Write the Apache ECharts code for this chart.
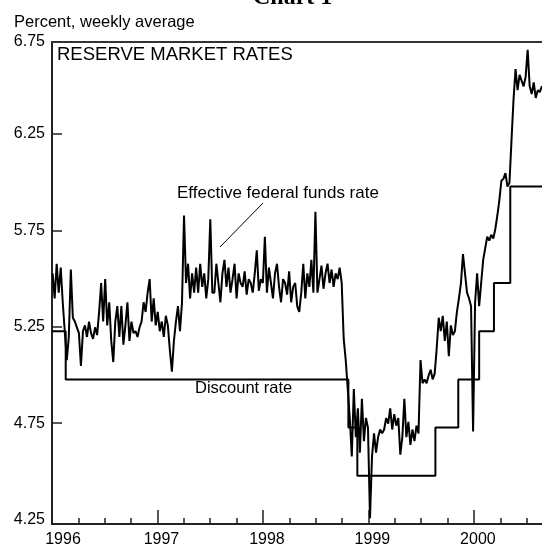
<!DOCTYPE html>
<html>
<head>
<meta charset="utf-8">
<script src="https://cdn.jsdelivr.net/npm/echarts@6/dist/echarts.min.js"></script>
<style>
html,body{margin:0;padding:0;background:#fff;}
#c{width:542px;height:550px;}
</style>
</head>
<body>
<div id="c"></div>
<script>
// ---- DATA ----
var firstWeek = 1996.006;          // first weekly observation (decimal year)
var weekStep = 7 / 365.25;         // one week in years
var fedFunds = [
5.55,5.42,5.60,5.45,5.58,5.40,5.25,5.10,5.22,5.57,
5.32,5.30,5.27,5.24,5.07,5.25,5.28,5.22,5.30,5.24,
5.21,5.27,5.23,5.35,5.50,5.30,5.52,5.28,5.40,5.20,
5.09,5.30,5.38,5.22,5.38,5.18,5.28,5.40,5.20,5.30,
5.24,5.25,5.22,5.27,5.30,5.40,5.35,5.45,5.52,5.30,
5.42,5.28,5.35,5.25,5.30,5.22,5.33,5.28,5.15,5.04,
5.20,5.30,5.38,5.25,5.40,5.85,5.50,5.60,5.42,5.55,
5.45,5.58,5.45,5.60,5.48,5.55,5.42,5.52,5.83,5.45,
5.45,5.60,5.50,5.40,5.55,5.62,5.48,5.58,5.45,5.52,
5.60,5.42,5.55,5.50,5.48,5.56,5.44,5.52,5.50,5.45,
5.55,5.67,5.46,5.52,5.50,5.74,5.45,5.58,5.50,5.42,
5.55,5.60,5.48,5.40,5.52,5.50,5.44,5.56,5.40,5.48,
5.50,5.38,5.35,5.45,5.60,5.42,5.55,5.48,5.62,5.45,
5.87,5.45,5.52,5.59,5.47,5.55,5.60,5.50,5.57,5.48,
5.55,5.52,5.58,5.50,5.21,5.10,4.95,4.80,4.60,4.95,
4.70,4.85,4.62,4.90,4.68,4.80,4.75,4.28,4.60,4.72,
4.62,4.70,4.74,4.72,4.74,4.80,4.77,4.85,4.74,4.82,
4.76,4.80,4.61,4.70,4.90,4.70,4.78,4.66,4.74,4.68,
4.76,4.72,5.10,4.98,5.00,4.98,5.02,5.05,5.00,5.03,
5.16,5.32,5.25,5.33,5.20,5.30,5.12,5.28,5.23,5.25,
5.35,5.42,5.50,5.65,5.55,5.45,5.42,5.38,4.73,5.40,
5.55,5.38,5.50,5.62,5.68,5.74,5.72,5.75,5.73,5.78,
5.85,5.93,6.03,6.04,6.07,6.00,6.02,6.24,6.45,6.61,
6.50,6.58,6.55,6.52,6.57,6.71,6.52,6.48,6.54,6.46,
6.50,6.49,6.52,6.50
];
var discountDates = [1996.0, 1996.13, 1998.81, 1998.895, 1999.635, 1999.852, 2000.05, 2000.19, 2000.345, 2000.75];
var discountRates = [5.25, 5.00, 4.75, 4.50, 4.75, 5.00, 5.25, 5.50, 6.00, 6.00];
var yearTicks = [1996, 1997, 1998, 1999, 2000];
var yTopLabel = [6.75];
var yLowerLabels = [4.25, 4.75, 5.25, 5.75, 6.25];
var yInnerTicks = [4.75, 5.25, 5.75, 6.25];

// ---- BUILD ----
var ffData = fedFunds.map(function (v, i) { return [firstWeek + i * weekStep, v]; });
var drData = discountDates.map(function (d, i) { return [d, discountRates[i]]; });

var FONT = '"Liberation Sans", Arial, sans-serif';
var chart = echarts.init(document.getElementById('c'), null, {renderer: 'canvas'});
var xMin = 1996, xMax = 2000.75;
var yMin = yLowerLabels[0], yMax = yTopLabel[0];
var fmt2 = function (v) { return v.toFixed(2); };

chart.setOption({
  animation: false,
  backgroundColor: '#fff',
  grid: [
    {left: 52, top: 42, width: 501, height: 482, containLabel: false, outerBoundsMode: 'none'},
    {left: 52, top: 37.5, width: 501, height: 482, containLabel: false, outerBoundsMode: 'none'}
  ],
  xAxis: [{
    gridIndex: 0, type: 'value', min: xMin, max: xMax, interval: 0.25, position: 'bottom',
    axisLine: {show: true, lineStyle: {color: '#222', width: 2}},
    axisTick: {show: true, inside: true, length: 6, lineStyle: {color: '#222', width: 1.5}},
    splitLine: {show: false},
    axisLabel: {
      interval: 0, margin: 8, color: '#000', fontFamily: FONT, fontSize: 16,
      showMinLabel: true, showMaxLabel: true,
      formatter: function (v) {
        var y = Math.round(v);
        if (Math.abs(v - y) > 1e-6 || yearTicks.indexOf(y) < 0) return '';
        return y === 1996 ? '{f|' + y + '}' : '{o|' + y + '}';
      },
      rich: {
        f: {fontFamily: FONT, fontSize: 16, color: '#000', padding: [0, 0, 0, 22]},
        o: {fontFamily: FONT, fontSize: 16, color: '#000', padding: [0, 0, 0, 8]}
      }
    }
  }, {
    gridIndex: 0, type: 'value', min: xMin, max: xMax, interval: 1, position: 'bottom',
    axisLine: {show: false},
    axisTick: {show: true, inside: true, length: 14, lineStyle: {color: '#222', width: 1.5}},
    axisLabel: {show: false}, splitLine: {show: false}
  }, {
    gridIndex: 0, type: 'value', min: xMin, max: xMax, position: 'top',
    axisLine: {show: true, lineStyle: {color: '#333', width: 2}},
    axisTick: {show: false}, axisLabel: {show: false}, splitLine: {show: false}
  }, {
    gridIndex: 1, type: 'value', min: xMin, max: xMax, show: false
  }],
  yAxis: [{
    gridIndex: 0, type: 'value', min: yMin, max: yMax, interval: 0.5,
    axisLine: {show: true, lineStyle: {color: '#222', width: 2}},
    axisTick: {show: false}, splitLine: {show: false},
    axisLabel: {show: true, customValues: yTopLabel, margin: 7, color: '#000',
      fontFamily: FONT, fontSize: 16, formatter: fmt2}
  }, {
    gridIndex: 1, type: 'value', min: yMin, max: yMax, interval: 0.5,
    axisLine: {show: false},
    axisTick: {show: true, inside: true, length: 10, customValues: yInnerTicks,
      lineStyle: {color: '#222', width: 1.5}},
    splitLine: {show: false},
    axisLabel: {customValues: yLowerLabels, margin: 7, color: '#000', fontFamily: FONT, fontSize: 16,
      formatter: fmt2}
  }],
  series: [{
    name: 'Effective federal funds rate', type: 'line', data: ffData,
    xAxisIndex: 0, yAxisIndex: 0,
    showSymbol: false, symbol: 'none', clip: true,
    lineStyle: {color: '#000', width: 2}
  }, {
    name: 'Discount rate', type: 'line', data: drData, step: 'end',
    xAxisIndex: 0, yAxisIndex: 0,
    showSymbol: false, symbol: 'none', clip: true,
    lineStyle: {color: '#000', width: 2}
  }],
  graphic: [
    {type: 'text', left: 253, top: -14, style: {text: 'Chart 1', font: 'bold 24px "Liberation Serif", "Times New Roman", serif', fill: '#000'}},
    {type: 'text', left: 14, top: 14, style: {text: 'Percent, weekly average', font: '16.5px ' + FONT, fill: '#000'}},
    {type: 'text', left: 57, top: 45, style: {text: 'RESERVE MARKET RATES', font: '18.5px ' + FONT, fill: '#000'}},
    {type: 'text', left: 177, top: 185, style: {text: 'Effective federal funds rate', font: '17px ' + FONT, fill: '#000'}},
    {type: 'text', left: 195, top: 380, style: {text: 'Discount rate', font: '16.5px ' + FONT, fill: '#000'}},
    {type: 'line', shape: {x1: 220, y1: 247, x2: 263, y2: 203}, style: {stroke: '#000', lineWidth: 1}}
  ]
});
</script>
</body>
</html>
